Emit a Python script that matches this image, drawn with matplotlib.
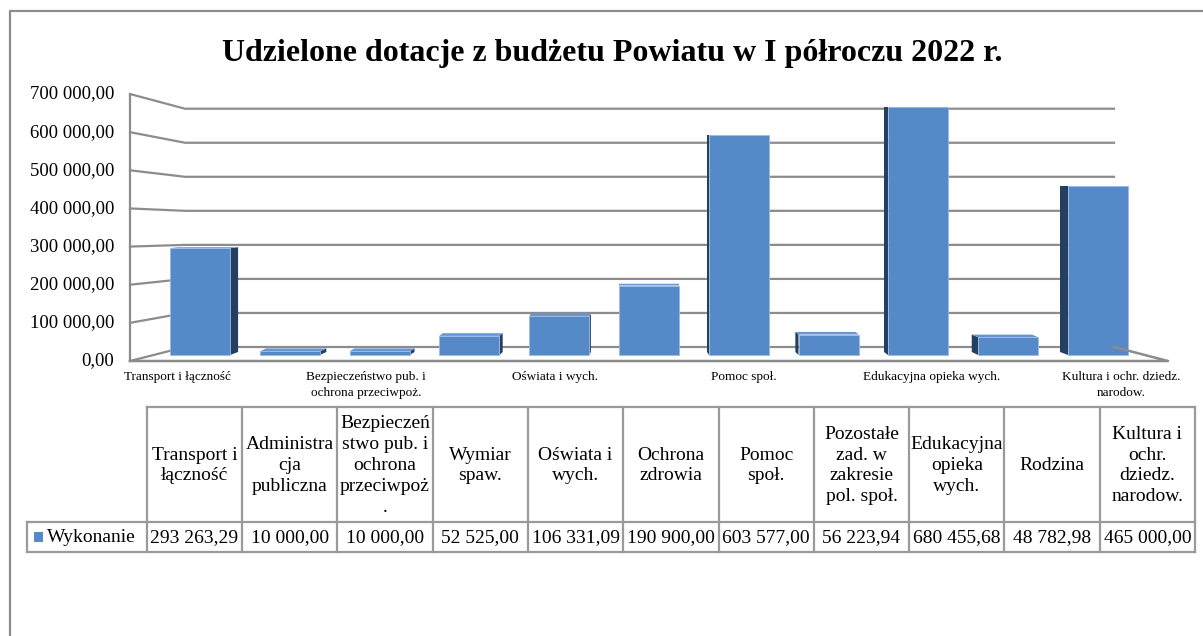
import matplotlib
matplotlib.use("Agg")
import matplotlib.pyplot as plt
from matplotlib.patches import Polygon, Rectangle

# ---------------- data ----------------
title = "Udzielone dotacje z budżetu Powiatu w I półroczu 2022 r."
series_name = "Wykonanie"
categories = [
    "Transport i łączność", "Administracja publiczna",
    "Bezpieczeństwo pub. i ochrona przeciwpoż.", "Wymiar spaw.",
    "Oświata i wych.", "Ochrona zdrowia", "Pomoc społ.",
    "Pozostałe zad. w zakresie pol. społ.", "Edukacyjna opieka wych.",
    "Rodzina", "Kultura i ochr. dziedz. narodow.",
]
axis_labels = [
    "Transport i łączność", "", "Bezpieczeństwo pub. i\nochrona przeciwpoż.", "",
    "Oświata i wych.", "", "Pomoc społ.", "", "Edukacyjna opieka wych.", "",
    "Kultura i ochr. dziedz.\nnarodow.",
]
table_headers = [
    "Transport i\nłączność", "Administra\ncja\npubliczna",
    "Bezpieczeń\nstwo pub. i\nochrona\nprzeciwpoż\n.", "Wymiar\nspaw.",
    "Oświata i\nwych.", "Ochrona\nzdrowia", "Pomoc\nspoł.",
    "Pozostałe\nzad. w\nzakresie\npol. społ.", "Edukacyjna\nopieka\nwych.",
    "Rodzina", "Kultura i\nochr.\ndziedz.\nnarodow.",
]
values = [293263.29, 10000.00, 10000.00, 52525.00, 106331.09, 190900.00,
          603577.00, 56223.94, 680455.68, 48782.98, 465000.00]
y_ticks = [0, 100000, 200000, 300000, 400000, 500000, 600000, 700000]


def fmt_pl(v):
    s = f"{v:,.2f}"
    return s.replace(",", " ").replace(".", ",")


# ---------------- figure ----------------
W, H = 1203, 636
fig = plt.figure(figsize=(W / 100, H / 100), dpi=100)
plt.rcParams['font.family'] = ['Liberation Serif', 'DejaVu Serif']

# chart axes: x = category index, y = value (pseudo-3D projection)
PX_CAT = 89.8          # pixels per category
X0_PX = 200.0          # pixel x of category 0
Y0_PX = 355.0          # pixel y of value 0 on bar plane
PX_VAL = 0.364 / 1000  # pixels per value unit on bar plane

ax = fig.add_axes([0, 0, 1, 1])
ax.set_xlim((0 - X0_PX) / PX_CAT, (W - X0_PX) / PX_CAT)
ax.set_ylim((Y0_PX - H) / PX_VAL, Y0_PX / PX_VAL)
ax.axis('off')


def xu(px):
    return (px - X0_PX) / PX_CAT


def yu(py):
    return (Y0_PX - py) / PX_VAL


def front_py(v):
    return 361 - v * 0.3814 / 1000


def back_py(v):
    return 347 - v * 0.3404 / 1000


FRONT_L, BACK_L, BACK_R, FRONT_R = 130, 185, 1114, 1168
grid_c = '#8c8c8c'

# walls / gridlines
for v in y_ticks:
    ax.plot([xu(FRONT_L), xu(BACK_L), xu(BACK_R)],
            [yu(front_py(v)), yu(back_py(v)), yu(back_py(v))],
            color=grid_c, lw=1.6, zorder=1, solid_joinstyle='miter')
# left axis line
ax.plot([xu(FRONT_L), xu(FRONT_L)], [yu(front_py(0)), yu(front_py(y_ticks[-1]))],
        color=grid_c, lw=1.6, zorder=1)
# floor edges
ax.plot([xu(FRONT_L), xu(FRONT_R), xu(BACK_R)],
        [yu(front_py(0)), yu(front_py(0)), yu(back_py(0))],
        color=grid_c, lw=1.8, zorder=4)

# bars
n = len(values)
xs = list(range(n))
bw = 0.67
face_c = '#5589C8'
side_c = '#253F60'
top_c = '#6796D2'
ax.bar(xs, values, width=bw, bottom=0, color=face_c, edgecolor='#9bbbe3',
       linewidth=0.6, zorder=3)

vp = xu(650)
k = 0.0178
for i, v in enumerate(values):
    dx = k * (vp - i)
    dyb = 3 / PX_VAL
    dyt = max(0.0, 3 * (1 - v / 450000)) / PX_VAL
    edge = i + bw / 2 if i < vp else i - bw / 2
    side = Polygon([(edge, 0), (edge, v), (edge + dx, v + dyt), (edge + dx, dyb)],
                   closed=True, facecolor=side_c, edgecolor='none', zorder=2.5)
    ax.add_patch(side)
    if dyt > 0:
        top = Polygon([(i - bw / 2, v), (i + bw / 2, v), (i + bw / 2 + dx, v + dyt),
                       (i - bw / 2 + dx, v + dyt)],
                      closed=True, facecolor=top_c, edgecolor='none', zorder=2.6)
        ax.add_patch(top)

# y tick labels on the front plane
for v in y_ticks:
    ax.text(xu(114), yu(front_py(v)), fmt_pl(v), ha='right', va='center',
            fontsize=13.5, color='black')

# category labels along the front floor edge
step = (FRONT_R - FRONT_L) / n
for i, lab in enumerate(axis_labels):
    if lab:
        ax.text(xu(FRONT_L + step * (i + 0.5)), yu(371), lab, ha='center', va='top',
                fontsize=9.5, linespacing=1.45)

# ---------------- overlay in pixel units: title, frame, table ----------------
tax = fig.add_axes([0, 0, 1, 1])
tax.set_xlim(0, W)
tax.set_ylim(H, 0)
tax.axis('off')
tax.patch.set_visible(False)

tax.plot([10, 10, W + 5], [H + 5, 11, 11], color='#8c8c8c', lw=1.6)
tax.text(612, 61, title, ha='center', va='baseline', fontsize=23, fontweight='bold')

tab_c = '#9a9a9a'
col_l = 146.7
col_w = (1195 - col_l) / n
leg_l = 26.7
top_y, mid_y, bot_y = 407, 522, 552
lw_t = 1.6
tax.plot([col_l, col_l + n * col_w], [top_y, top_y], color=tab_c, lw=lw_t)
for yy in (mid_y, bot_y):
    tax.plot([leg_l, col_l + n * col_w], [yy, yy], color=tab_c, lw=lw_t)
tax.plot([leg_l, leg_l], [mid_y, bot_y], color=tab_c, lw=lw_t)
for j in range(n + 1):
    xx = col_l + j * col_w
    tax.plot([xx, xx], [top_y, bot_y], color=tab_c, lw=lw_t)

for j in range(n):
    cx = col_l + (j + 0.5) * col_w
    tax.text(cx, (top_y + mid_y) / 2 + 1, table_headers[j], ha='center', va='center',
             fontsize=14, linespacing=1.3)
    tax.text(cx, (mid_y + bot_y) / 2 + 1, fmt_pl(values[j]), ha='center', va='center',
             fontsize=14)

tax.add_patch(Rectangle((33.5, 532), 9.5, 9.5, facecolor=face_c, edgecolor='none'))
tax.text(47, (mid_y + bot_y) / 2 + 1, series_name, ha='left', va='center', fontsize=14)

fig.savefig('out.png', dpi=100)
